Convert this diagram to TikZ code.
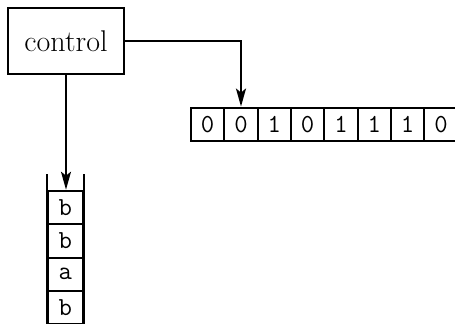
\documentclass[tikz,border=0pt]{standalone}
\usetikzlibrary{arrows.meta}
\begin{document}
\begin{tikzpicture}[x=0.5pt, y=-0.5pt,
  every path/.style={line width=1pt},
  ctrlbox/.style={draw, line width=1pt, minimum width=58pt, minimum height=33pt,
    inner sep=0pt, font=\fontsize{15}{17}\selectfont},
  tapecell/.style={draw, line width=1pt, minimum width=16.67pt, minimum height=16.67pt,
    inner sep=0pt, font=\fontsize{13}{15}\selectfont\ttfamily},
  stackcell/.style={draw, line width=1pt, minimum width=17.5pt, minimum height=16.7pt,
    inner sep=0pt, font=\fontsize{13}{15}\selectfont\ttfamily},
  headarrow/.style={-{Stealth[length=9pt,width=5pt,inset=2pt]}, line width=1pt}]
\useasboundingbox (0,0) rectangle (455,323);

% finite control
\node[ctrlbox] (control) at (66,41) {control};

% input tape
\foreach \v [count=\i] in {0,0,1,0,1,1,1,0}
  \node[tapecell] (t\i) at ({191+33.33*(\i-0.5)},124.2) {\v};

% pushdown stack
\foreach \v [count=\i] in {b,b,a,b}
  \node[stackcell] (s\i) at (65.2,{207.4+33.4*(\i-1)}) {\v};
\draw ([yshift=7.85pt]s1.north west) -- ([yshift=-6pt]s4.south west);
\draw ([yshift=7.85pt]s1.north east) -- ([yshift=-6pt]s4.south east);

% read head and stack access
\draw[headarrow] (control.east) -| (t2.north);
\draw[headarrow] (control.south) -- (control.south |- s1.north);
\end{tikzpicture}
\end{document}
